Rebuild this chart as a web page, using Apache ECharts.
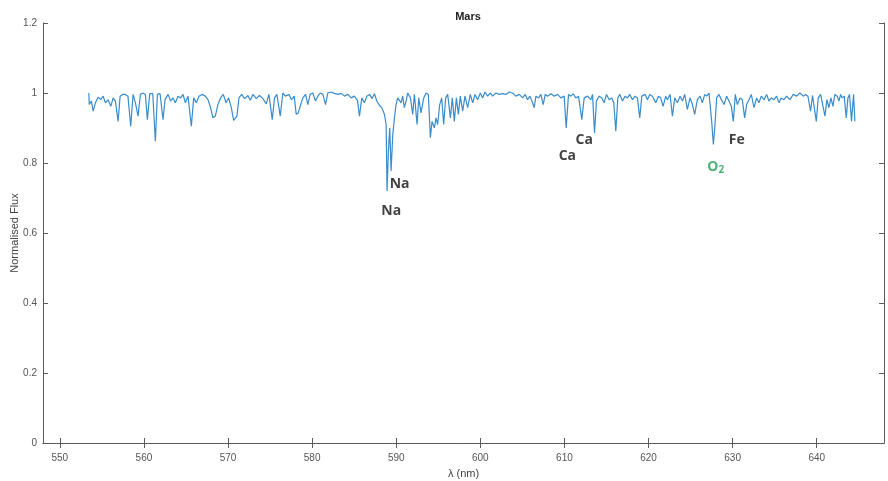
<!DOCTYPE html>
<html>
<head>
    <meta charset="utf-8">
    <title>Mars</title>
    <script src="https://cdn.jsdelivr.net/npm/echarts@6.0.0/dist/echarts.min.js"></script>
    <style>
        html, body { margin: 0; padding: 0; background: #fff; }
        #main { width: 888px; height: 481px; }
    </style>
</head>
<body>
    <div id="main"></div>

    <script>
        // wavelength (nm) of each traced vertex of the spectrum
        const wavelength = [
            553.45, 553.5, 553.76, 553.96, 554.24, 554.55, 554.87, 555.15, 555.42, 555.74,
            556.06, 556.34, 556.61, 556.93, 557.17, 557.48, 557.8, 558.1, 558.43, 558.71,
            558.99, 559.3, 559.58, 559.9, 560.17, 560.41, 560.69, 561.05, 561.36, 561.6,
            561.92, 562.27, 562.51, 562.87, 563.18, 563.46, 563.74, 564.05, 564.37, 564.65,
            564.93, 565.24, 565.64, 565.92, 566.23, 566.55, 566.9, 567.3, 567.62, 567.93,
            568.21, 568.49, 568.8, 569.12, 569.44, 569.76, 570.07, 570.39, 570.67,
            571.06, 571.3, 571.62, 571.97, 572.37, 572.64, 572.96, 573.36, 573.75, 574.15,
            574.54, 574.86, 575.26, 575.53, 575.81, 576.21, 576.52, 576.84, 577.24, 577.55,
            577.87, 578.11, 578.35, 578.58, 578.9, 579.22, 579.49, 579.77, 580.09, 580.4,
            580.68, 580.96, 581.28, 581.59, 581.87, 582.26, 582.66, 583.06, 583.45, 583.85,
            584.24, 584.64, 585.03, 585.39, 585.63, 585.91, 586.22, 586.5, 586.82, 587.13,
            587.41, 587.69, 588.0,
            588.28, 588.6, 588.8, 588.91, 589.07, 589.23, 589.39, 589.59, 589.79, 589.98,
            590.18, 590.38, 590.58, 590.77, 590.97, 591.17, 591.37, 591.69, 591.96, 592.16,
            592.48, 592.68, 592.95, 593.27, 593.55, 593.82, 594.06, 594.26, 594.54, 594.73,
            594.93, 595.17, 595.41, 595.64, 595.88, 596.12, 596.44, 596.67, 596.91, 597.15,
            597.39, 597.62, 597.9, 598.18, 598.49, 598.81, 599.09, 599.37, 599.68, 600.0,
            600.28, 600.55, 600.87, 601.19, 601.46, 601.86, 602.25, 602.65, 603.05, 603.44,
            603.84, 604.23, 604.63,
            605.03, 605.34, 605.62, 605.9, 606.21, 606.41, 606.61, 606.93, 607.2, 607.48,
            607.72, 607.99, 608.39, 608.79, 609.18, 609.58, 609.97, 610.21, 610.49, 610.77,
            611.04, 611.36, 611.68, 612.07, 612.35, 612.75, 613.14, 613.34, 613.58, 613.81,
            614.13, 614.45, 614.72, 615.0, 615.32, 615.64, 615.87, 616.11, 616.35, 616.59,
            616.9, 617.22, 617.5, 617.77, 618.09, 618.41, 618.68, 618.96, 619.2, 619.6,
            619.87, 620.15, 620.46, 620.86, 621.18, 621.45, 621.73, 622.05,
            622.25, 622.56, 622.84, 623.12, 623.43, 623.75, 624.03, 624.3, 624.62, 624.94,
            625.22, 625.49, 625.81, 626.13, 626.4, 626.68, 626.92, 627.19, 627.51, 627.71,
            627.91, 628.1, 628.38, 628.66, 628.98, 629.29, 629.57, 629.85, 630.08, 630.32,
            630.56, 630.88, 631.15, 631.43, 631.67, 631.94, 632.22, 632.54, 632.86, 633.13,
            633.41, 633.73, 634.04, 634.32, 634.6, 634.91, 635.23, 635.51, 635.78, 636.1,
            636.42, 636.81, 637.21, 637.61, 638.0, 638.4, 638.67, 638.95, 639.27, 639.5,
            639.67, 639.95, 640.18, 640.46, 640.66, 640.98, 641.21, 641.45, 641.69, 641.93,
            642.16, 642.44, 642.64, 642.84, 643.03, 643.27, 643.51, 643.71, 643.9, 644.14,
            644.38, 644.54
        ];

        // normalised flux at each vertex
        const flux = [
            1.0, 0.967, 0.977, 0.948, 0.972, 0.988, 0.981, 0.991, 0.972, 0.981,
            0.962, 0.986, 0.977, 0.919, 0.991, 0.996, 0.996, 0.991, 0.905, 0.996,
            0.972, 0.934, 0.996, 1.0, 0.996, 0.924, 0.998, 0.998, 0.862, 0.996,
            0.998, 0.924, 0.981, 0.996, 0.977, 0.986, 0.972, 0.991, 0.986, 0.996,
            0.972, 0.991, 0.905, 0.986, 0.972, 0.991, 0.996, 0.991, 0.981, 0.958,
            0.929, 0.934, 0.967, 0.986, 0.996, 0.972, 0.986, 0.958, 0.922,
            0.934, 0.986, 0.996, 0.984, 0.993, 0.979, 0.996, 0.984, 0.993, 0.984,
            0.969, 0.996, 0.924, 0.986, 0.996, 0.934, 1.0, 0.991, 0.996, 0.981,
            0.991, 0.939, 0.943, 0.962, 0.986, 0.996, 0.967, 0.996, 1.0, 0.977,
            0.991, 1.0, 0.996, 0.967, 1.0, 1.003, 0.999, 0.996, 0.999, 0.991,
            0.996, 0.986, 0.991, 0.979, 0.934, 0.986, 0.972, 0.991, 0.996, 0.984,
            0.998, 0.977, 0.965,
            0.958, 0.939, 0.91, 0.719, 0.834, 0.9, 0.777, 0.881, 0.929, 0.967,
            0.986, 0.981, 0.972, 0.991, 0.958, 0.977, 1.0, 0.986, 0.939, 0.996,
            0.91, 0.986, 0.943, 0.986, 1.0, 0.996, 0.872, 0.919, 0.9, 0.929,
            0.91, 0.967, 0.986, 0.91, 0.986, 0.996, 0.929, 0.986, 0.919, 0.986,
            0.939, 0.991, 0.948, 0.991, 0.958, 0.996, 0.972, 0.996, 0.981, 1.0,
            0.986, 1.003, 0.991, 1.0, 0.991, 1.0, 0.996, 0.998, 0.996, 1.003,
            1.0, 0.991, 0.996,
            0.986, 0.996, 0.981, 0.991, 0.972, 0.958, 0.991, 0.986, 0.996, 0.967,
            0.996, 0.991, 0.998, 0.991, 0.996, 0.986, 0.991, 0.9, 0.996, 0.991,
            0.998, 0.986, 0.991, 0.924, 0.986, 0.991, 0.981, 0.996, 0.886, 0.977,
            0.991, 0.986, 0.972, 0.996, 0.981, 0.986, 0.972, 0.891, 0.986, 0.996,
            0.977, 0.991, 0.986, 0.996, 0.981, 0.991, 0.986, 0.929, 0.991, 0.996,
            0.981, 0.996, 0.991, 0.972, 0.991, 0.986, 0.962, 0.991,
            0.981, 0.996, 0.934, 0.986, 0.972, 0.991, 0.977, 0.996, 0.953, 0.986,
            0.967, 0.939, 0.981, 0.991, 0.972, 0.996, 0.991, 1.0, 0.919, 0.853,
            0.91, 0.986, 0.996, 0.981, 0.967, 0.991, 0.977, 0.962, 0.919, 0.996,
            0.967, 0.986, 0.981, 0.929, 0.967, 0.981, 0.996, 0.958, 0.986, 0.972,
            0.991, 0.981, 0.996, 0.977, 0.986, 0.981, 0.991, 0.972, 0.986, 0.981,
            0.991, 0.981, 0.996, 0.991, 1.0, 0.991, 0.996, 0.991, 0.948, 0.993,
            0.991, 0.919, 0.986, 0.996, 0.991, 0.934, 0.981, 0.958, 0.986, 0.962,
            0.996, 0.991, 0.977, 0.996, 0.986, 0.991, 0.929, 0.986, 0.996, 0.919,
            0.996, 0.919
        ];

        // line identifications: [wavelength, flux, text]
        const lineLabels = [
            [590.4, 0.739, 'Na'],
            [589.4, 0.664, 'Na'],
            [612.35, 0.867, 'Ca'],
            [610.35, 0.819, 'Ca'],
            [630.5, 0.867, 'Fe'],
            [628.0, 0.787, 'O2']
        ];

        const xTicks = [550, 560, 570, 580, 590, 600, 610, 620, 630, 640];

        var myChart = echarts.init(document.getElementById('main'));

        const axisColor = '#5a5a5a';
        const labelFont = 'Liberation Sans, Arial, sans-serif';
        // MATLAB-style box: ticks point into the plot
        const boxTick = { show: true, inside: true, length: 5, lineStyle: { color: axisColor } };

        const option = {
            animation: false,
            title: {
                text: 'Mars', left: 463, top: 6, textAlign: 'center',
                textStyle: { fontFamily: labelFont, fontSize: 11, fontWeight: 'bold', color: '#222' }
            },
            grid: { left: 43, right: 4, top: 23, bottom: 38, outerBoundsMode: 'none', containLabel: false },
            xAxis: [
                {
                    type: 'value', min: 548, max: 648,
                    name: 'λ (nm)', nameLocation: 'middle', nameGap: 25,
                    nameTextStyle: { fontFamily: labelFont, fontSize: 11, color: '#444' },
                    axisLine: { show: true, lineStyle: { color: axisColor } },
                    axisTick: Object.assign({ customValues: xTicks }, boxTick),
                    axisLabel: { customValues: xTicks, margin: 10, fontFamily: labelFont, fontSize: 10, color: '#555' },
                    splitLine: { show: false }
                },
                {
                    type: 'value', position: 'top', min: 548, max: 648,
                    axisLine: { show: true, lineStyle: { color: axisColor } },
                    axisTick: Object.assign({ customValues: xTicks }, boxTick),
                    axisLabel: { show: false },
                    splitLine: { show: false }
                }
            ],
            yAxis: [
                {
                    type: 'value', min: 0, max: 1.2, interval: 0.2,
                    name: 'Normalised Flux', nameLocation: 'middle', nameGap: 23,
                    nameMoveOverlap: false,
                    nameTextStyle: { fontFamily: labelFont, fontSize: 11, color: '#444' },
                    axisLine: { show: true, lineStyle: { color: axisColor } },
                    axisTick: boxTick,
                    axisLabel: { margin: 6, fontFamily: labelFont, fontSize: 10, color: '#555' },
                    splitLine: { show: false }
                },
                {
                    type: 'value', position: 'right', min: 0, max: 1.2, interval: 0.2,
                    axisLine: { show: true, lineStyle: { color: axisColor } },
                    axisTick: boxTick,
                    axisLabel: { show: false },
                    splitLine: { show: false }
                }
            ],
            series: [
                {
                    name: 'Mars', type: 'line',
                    data: wavelength.map((w, i) => [w, flux[i]]),
                    showSymbol: false,
                    lineStyle: { color: '#3a8cca', width: 1.2 }
                },
                {
                    name: 'labels', type: 'scatter', symbolSize: 0, silent: true,
                    data: lineLabels.map(d => ({
                        value: [d[0], d[1]],
                        label: d[2] === 'O2'
                            ? { formatter: '{o|O}{s|2}', color: '#1f9e55' }
                            : { formatter: d[2], color: '#111' }
                    })),
                    label: {
                        show: true, position: 'inside',
                        fontFamily: 'Open Sans, Liberation Sans, sans-serif', fontSize: 14, fontWeight: 'bold',
                        rich: {
                            o: { fontFamily: 'Open Sans, sans-serif', fontSize: 14, fontWeight: 'bold', color: '#1f9e55', verticalAlign: 'top' },
                            s: { fontFamily: 'Open Sans, sans-serif', fontSize: 10, fontWeight: 'bold', color: '#1f9e55', verticalAlign: 'top', padding: [6, 0, 0, 0] }
                        }
                    }
                }
            ]
        };

        myChart.setOption(option);
        window.addEventListener('resize', function() {
            myChart.resize();
        });
    </script>
</body>
</html>
